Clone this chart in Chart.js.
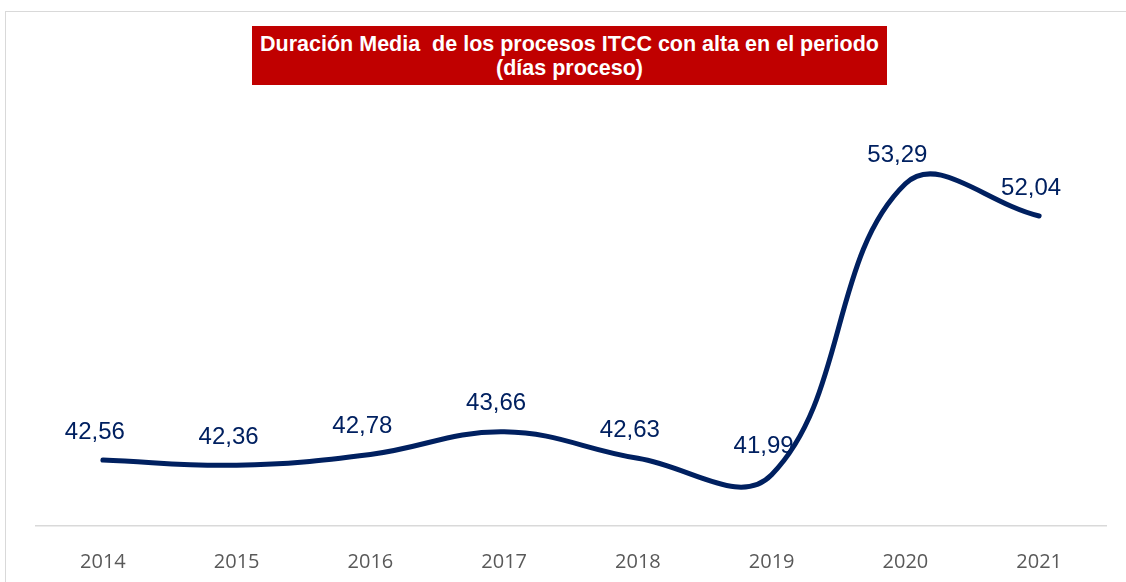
<!DOCTYPE html>
<html lang="es">
<head>
    <meta charset="UTF-8">
    <title>Duración Media de los procesos ITCC</title>
    <script src="https://cdn.jsdelivr.net/npm/chart.js"></script>
    <style>
        body { margin: 0; background: #fff; }
        #wrap { position: relative; width: 1126px; height: 582px; }
        #frame {
            position: absolute; left: 5px; top: 11px; width: 1200px; height: 700px;
            border: 1.5px solid #d9d9d9;
        }
        #titulo {
            position: absolute; left: 252px; top: 26px; width: 635px; height: 59px;
            background: #c00000; color: #fff;
            font: bold 21.5px "Liberation Sans", Arial, sans-serif;
            text-align: center; line-height: 24px; padding-top: 6px; box-sizing: border-box;
            white-space: pre;
        }
        canvas { position: absolute; left: 0; top: 0; }
    </style>
</head>
<body>
    <div id="wrap">
        <div id="frame"></div>
        <canvas id="grafico" width="1126" height="582"></canvas>
        <div id="titulo">Duración Media  de los procesos ITCC con alta en el periodo
(días proceso)</div>
    </div>

    <script>
        // datos
        const anios = ['2014', '2015', '2016', '2017', '2018', '2019', '2020', '2021'];
        const duracion = [42.56, 42.36, 42.78, 43.66, 42.63, 41.99, 53.29, 52.04];

        const azul = '#002060';

        // etiquetas de valor encima de cada punto
        const etiquetas = {
            id: 'etiquetas',
            afterDatasetsDraw(chart) {
                const ctx = chart.ctx;
                const meta = chart.getDatasetMeta(0);
                ctx.save();
                ctx.font = '24px "Liberation Sans", Arial, sans-serif';
                ctx.fillStyle = azul;
                ctx.textAlign = 'center';
                ctx.textBaseline = 'middle';
                meta.data.forEach((p, i) => {
                    const txt = duracion[i].toFixed(2).replace('.', ',');
                    ctx.fillText(txt, p.x - 8, p.y - 28);
                });
                ctx.restore();
            }
        };

        const ctx = document.getElementById('grafico').getContext('2d');
        new Chart(ctx, {
            type: 'line',
            data: {
                labels: anios,
                datasets: [{
                    data: duracion,
                    borderColor: azul,
                    borderWidth: 5,
                    borderCapStyle: 'round',
                    tension: 0.4,
                    pointRadius: 0,
                    fill: false,
                    clip: false
                }]
            },
            options: {
                responsive: false,
                animation: false,
                layout: { padding: { left: 36, right: 20, top: 114, bottom: -16 } },
                plugins: {
                    legend: { display: false },
                    tooltip: { enabled: false }
                },
                scales: {
                    x: {
                        offset: true,
                        grid: { display: false, drawTicks: false },
                        border: { color: '#d9d9d9', width: 1.5 },
                        ticks: {
                            color: '#595959',
                            padding: 24,
                            font: { family: '"Open Sans", sans-serif', size: 20 }
                        }
                    },
                    y: {
                        display: false,
                        min: 40,
                        max: 56
                    }
                }
            },
            plugins: [etiquetas]
        });
    </script>
</body>
</html>
